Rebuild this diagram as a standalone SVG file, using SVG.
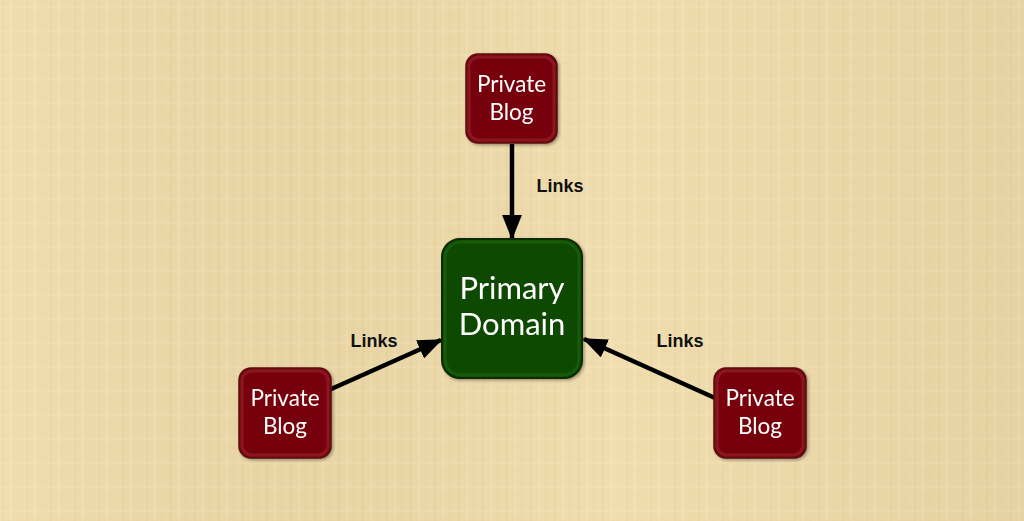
<svg xmlns="http://www.w3.org/2000/svg" width="1024" height="521" viewBox="0 0 1024 521">
<defs>
<style>
.blog rect.outer{fill:#77060f;stroke:#5a0a10;stroke-width:1.5}
.blog rect.inner{fill:none;stroke:#8a1520;stroke-width:3}
.btxt{font-family:Lato,"Liberation Sans",sans-serif;font-size:22.5px;fill:#ffffff;text-anchor:middle}
.ptxt{font-family:Lato,"Liberation Sans",sans-serif;font-size:31px;fill:#ffffff;text-anchor:middle}
.lbl{font-family:"Liberation Sans",Arial,sans-serif;font-size:18px;font-weight:bold;fill:#111111;text-anchor:middle}
.conn{stroke:#000;stroke-width:4.5;fill:none}
</style>
<pattern id="tex" width="24" height="24" patternUnits="userSpaceOnUse">
<rect width="24" height="24" fill="#f0dcab"/>
<line x1="3" y1="0" x2="3" y2="24" stroke="#e3cc94" stroke-width="1" opacity="0.6"/>
<line x1="11" y1="0" x2="11" y2="24" stroke="#f7e8c2" stroke-width="1" opacity="0.7"/>
<line x1="18" y1="0" x2="18" y2="24" stroke="#e6d09b" stroke-width="1" opacity="0.5"/>
<line x1="0" y1="7" x2="24" y2="7" stroke="#f6e6bd" stroke-width="1" opacity="0.6"/>
<line x1="0" y1="16" x2="24" y2="16" stroke="#e5cf9a" stroke-width="1" opacity="0.5"/>
</pattern>
<linearGradient id="shade" x1="0" y1="0" x2="1" y2="0">
<stop offset="0" stop-color="#ffffff" stop-opacity="0.06"/>
<stop offset="0.3" stop-color="#000000" stop-opacity="0.03"/>
<stop offset="0.6" stop-color="#ffffff" stop-opacity="0.05"/>
<stop offset="1" stop-color="#000000" stop-opacity="0.04"/>
</linearGradient>
<filter id="sh" x="-20%" y="-20%" width="140%" height="140%">
<feDropShadow dx="1.5" dy="1.5" stdDeviation="1.5" flood-color="#000" flood-opacity="0.35"/>
</filter>
<marker id="ah" markerWidth="5.5" markerHeight="4.4" refX="5.1" refY="2.2" orient="auto" markerUnits="strokeWidth">
<path d="M0,0 L5.5,2.2 L0,4.4 Z" fill="#000"/>
</marker>
</defs>
<rect width="1024" height="521" fill="url(#tex)"/>
<rect width="1024" height="521" fill="url(#shade)"/>
<g id="connectors">
<line class="conn" x1="512" y1="144" x2="512" y2="238" marker-end="url(#ah)"/>
<line class="conn" x1="329" y1="390" x2="441" y2="340" marker-end="url(#ah)"/>
<line class="conn" x1="715" y1="398" x2="584" y2="339" marker-end="url(#ah)"/>
<text class="lbl" x="560" y="192">Links</text>
<text class="lbl" x="374" y="347">Links</text>
<text class="lbl" x="680" y="347">Links</text>
</g>
<g id="primary" filter="url(#sh)">
<rect x="442" y="239" width="140" height="139" rx="18" fill="#0e4a02" stroke="#0a2a02" stroke-width="2"/>
<rect x="445" y="242" width="134" height="133" rx="16" fill="none" stroke="#185a0a" stroke-width="3"/>
<text class="ptxt" x="512" y="299">Primary</text>
<text class="ptxt" x="512" y="335">Domain</text>
</g>
<g id="blog-top" class="blog" filter="url(#sh)">
<rect class="outer" x="466" y="54" width="91" height="89" rx="12"/>
<rect class="inner" x="469" y="57" width="85" height="83" rx="10"/>
<text class="btxt" x="511.5" y="92">Private</text>
<text class="btxt" x="511.5" y="120">Blog</text>
</g>
<g id="blog-left" class="blog" filter="url(#sh)">
<rect class="outer" x="239" y="368" width="92" height="90" rx="12"/>
<rect class="inner" x="242" y="371" width="86" height="84" rx="10"/>
<text class="btxt" x="285" y="406">Private</text>
<text class="btxt" x="285" y="434">Blog</text>
</g>
<g id="blog-right" class="blog" filter="url(#sh)">
<rect class="outer" x="714" y="368" width="92" height="90" rx="12"/>
<rect class="inner" x="717" y="371" width="86" height="84" rx="10"/>
<text class="btxt" x="760" y="406">Private</text>
<text class="btxt" x="760" y="434">Blog</text>
</g>
</svg>
